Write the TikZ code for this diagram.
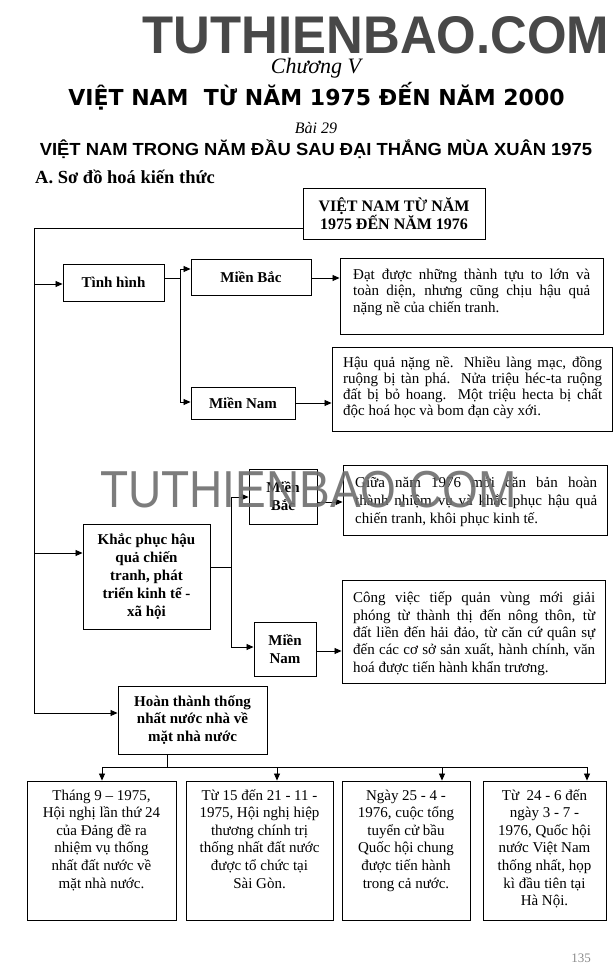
\documentclass[tikz,border=0pt]{standalone}
\usepackage{fontspec}
\setmainfont{Liberation Serif}
\newfontfamily\hsans{Liberation Sans}
\newfontfamily\dejav{DejaVu Sans}
\usetikzlibrary{arrows.meta}
\definecolor{wmtop}{RGB}{72,72,72}
\definecolor{wmmid}{RGB}{110,110,110}
\newcommand\jl[2]{\makebox[#1][s]{#2}}
\lineskiplimit=-30pt
\begin{document}
\begin{tikzpicture}[x=1pt,y=-1pt,
  box/.style={draw, line width=0.9pt, inner sep=0pt},
  lbl/.style={font=\bfseries\fontsize{15}{17.8}\selectfont, align=center},
  body/.style={inner sep=0pt, align=left, anchor=base west},
  cbody/.style={inner sep=0pt, align=center, anchor=base, font=\fontsize{15}{17.6}\selectfont},
  arr/.style={line width=0.8pt, -{Triangle[length=7pt,width=6pt]}},
  ln/.style={line width=0.8pt}]
\useasboundingbox (0,0) rectangle (615,980);
\fill[white] (0,0) rectangle (615,980);

% headers
\node[anchor=base, inner sep=0pt, text=wmtop, font=\hsans\bfseries\fontsize{53}{53}\selectfont] (wm1) at (376,53) {\scalebox{0.96}[1]{TUTHIENBAO.COM}};
\node[anchor=base, inner sep=0pt, font=\itshape\fontsize{22}{22}\selectfont] (chap) at (316,73) {Chương V};
\node[anchor=base, inner sep=0pt, font=\dejav\bfseries\fontsize{22}{22}\selectfont] (title) at (316.5,105) {VIỆT NAM\ \ TỪ NĂM 1975 ĐẾN NĂM 2000};
\node[anchor=base, inner sep=0pt, font=\itshape\fontsize{16}{16}\selectfont] (bai) at (316,133) {Bài 29};
\node[anchor=base, inner sep=0pt, font=\hsans\bfseries\fontsize{17.5}{17.5}\selectfont] (sub) at (316,155) {\scalebox{1.05}[1]{VIỆT NAM TRONG NĂM ĐẦU SAU ĐẠI THẮNG MÙA XUÂN 1975}};
\node[anchor=base west, inner sep=0pt, font=\bfseries\fontsize{18.5}{18.5}\selectfont] (secA) at (35,183) {A. Sơ đồ hoá kiến thức};

% top box
\node[box, lbl, font=\bfseries\fontsize{16}{18}\selectfont, minimum width=182pt, minimum height=51pt] (top) at (394,213.5) {VIỆT NAM TỪ NĂM\\1975 ĐẾN NĂM 1976};

% first group
\node[box, lbl, minimum width=101pt, minimum height=37pt] (tinh) at (113.5,282.5) {Tình hình};
\node[box, lbl, minimum width=120pt, minimum height=36pt] (mb1) at (251,277) {Miền Bắc};
\node[box, lbl, minimum width=104pt, minimum height=32pt] (mn1) at (243,403) {Miền Nam};
\node[box, minimum width=263pt, minimum height=76pt] (t1) at (471.5,296) {};
\node[body, font=\fontsize{15}{16.5}\selectfont] (t1txt) at (353,312) {\jl{237pt}{Đạt được những thành tựu to lớn và}\\ \jl{237pt}{toàn diện, nhưng cũng chịu hậu quả}\\ nặng nề của chiến tranh.};
\node[box, minimum width=280pt, minimum height=84pt] (t2) at (472,389) {};
\node[body, font=\fontsize{15}{15.7}\selectfont] (t2txt) at (343,415) {\jl{259pt}{Hậu quả nặng nề. Nhiều làng mạc, đồng}\\ \jl{259pt}{ruộng bị tàn phá. Nửa triệu héc-ta ruộng}\\ \jl{259pt}{đất bị bỏ hoang. Một triệu hecta bị chất}\\ độc hoá học và bom đạn cày xới.};

% second group
\node[box, lbl, minimum width=127pt, minimum height=105pt] (kp) at (146.5,576.5) {Khắc phục hậu\\quả chiến\\tranh, phát\\triển kinh tế -\\xã hội};
\node[box, lbl, minimum width=68pt, minimum height=55pt] (mb2) at (283,496.5) {Miền\\Bắc};
\node[box, lbl, minimum width=62pt, minimum height=54pt] (mn2) at (285,649) {Miền\\Nam};
\node[box, minimum width=264pt, minimum height=70pt] (t3) at (475,500) {};
\node[body, font=\fontsize{15}{18}\selectfont] (t3txt) at (355,523) {\jl{242pt}{Giữa năm 1976 mới căn bản hoàn}\\ \jl{242pt}{thành nhiệm vụ và khắc phục hậu quả}\\ chiến tranh, khôi phục kinh tế.};
\node[box, minimum width=263pt, minimum height=103pt] (t4) at (473.5,631.5) {};
\node[body, font=\fontsize{15}{17.3}\selectfont] (t4txt) at (353,672) {\jl{242pt}{Công việc tiếp quản vùng mới giải}\\ \jl{242pt}{phóng từ thành thị đến nông thôn, từ}\\ \jl{242pt}{đất liền đến hải đảo, từ căn cứ quân sự}\\ \jl{242pt}{đến các cơ sở sản xuất, hành chính, văn}\\ hoá được tiến hành khẩn trương.};

% third group
\node[box, lbl, minimum width=149pt, minimum height=68pt] (ht) at (192.5,720) {Hoàn thành thống\\nhất nước nhà về\\mặt nhà nước};
\node[box, minimum width=149pt, minimum height=139pt] (ba) at (101.5,850.5) {};
\node[box, minimum width=147pt, minimum height=139pt] (bb) at (259.5,850.5) {};
\node[box, minimum width=128pt, minimum height=139pt] (bc) at (406,850.5) {};
\node[box, minimum width=123pt, minimum height=139pt] (bd) at (544.5,850.5) {};
\node[cbody] (tA) at (101.5,888) {Tháng 9 – 1975,\\Hội nghị lần thứ 24\\của Đảng đề ra\\nhiệm vụ thống\\nhất đất nước về\\mặt nhà nước.};
\node[cbody] (tB) at (259.5,888) {Từ 15 đến 21 - 11 -\\1975, Hội nghị hiệp\\thương chính trị\\thống nhất đất nước\\được tổ chức tại\\Sài Gòn.};
\node[cbody] (tC) at (406,888) {Ngày 25 - 4 -\\1976, cuộc tổng\\tuyển cử bầu\\Quốc hội chung\\được tiến hành\\trong cả nước.};
\node[cbody] (tD) at (544.5,905.6) {Từ\ \ 24 - 6 đến\\ngày 3 - 7 -\\1976, Quốc hội\\nước Việt Nam\\thống nhất, họp\\kì đầu tiên tại\\Hà Nội.};

% page number
\node[anchor=base, inner sep=0pt, text=black!45, font=\fontsize{13}{13}\selectfont] (pg) at (581,962) {135};

% connectors: main spine
\coordinate (c0) at (303,228);
\coordinate (cL) at (34,228);
\coordinate (j1) at (34,284);
\coordinate (j2) at (34,553);
\coordinate (cLb) at (34,713);
\draw[ln] (c0) -- (cL) -- (cLb);
\draw[arr] (j1) -- (j1 -| tinh.west);
\draw[arr] (j2) -- (j2 -| kp.west);
\draw[arr] (cLb) -- (cLb -| ht.west);

% Tinh hinh split
\coordinate (s1) at (180,278);
\coordinate (s1t) at (180,269);
\coordinate (s1b) at (180,402);
\draw[ln] (s1 -| tinh.east) -- (s1);
\draw[ln] (s1t) -- (s1b);
\draw[arr] (s1t) -- (s1t -| mb1.west);
\draw[arr] (s1b) -- (s1b -| mn1.west);
\coordinate (m1) at (311,278);
\coordinate (m2) at (295,403);
\draw[arr] (m1 -| mb1.east) -- (m1 -| t1.west);
\draw[arr] (m2 -| mn1.east) -- (m2 -| t2.west);

% Khac phuc split
\coordinate (s2) at (231,567);
\coordinate (s2t) at (231,497);
\coordinate (s2b) at (231,647);
\draw[ln] (s2 -| kp.east) -- (s2);
\draw[ln] (s2t) -- (s2b);
\draw[arr] (s2t) -- (s2t -| mb2.west);
\draw[arr] (s2b) -- (s2b -| mn2.west);
\coordinate (m3) at (317,502);
\coordinate (m4) at (316,651);
\draw[arr] (m3 -| mb2.east) -- (m3 -| t3.west);
\draw[arr] (m4 -| mn2.east) -- (m4 -| t4.west);

% Hoan thanh to bottom boxes
\coordinate (h0) at (167,767);
\coordinate (hA) at (102,767);
\coordinate (hB) at (277,767);
\coordinate (hC) at (442,767);
\coordinate (hD) at (587,767);
\draw[ln] (h0 |- ht.south) -- (h0);
\draw[ln] (hA) -- (hD);
\draw[arr] (hA) -- (hA |- ba.north);
\draw[arr] (hB) -- (hB |- bb.north);
\draw[arr] (hC) -- (hC |- bc.north);
\draw[arr] (hD) -- (hD |- bd.north);

% middle watermark
\node[anchor=base, inner sep=0pt, text=wmmid, opacity=0.9, font=\hsans\fontsize{52}{52}\selectfont] (wm2) at (308.5,507) {\scalebox{0.885}[1]{TUTHIENBAO.COM}};
\end{tikzpicture}
\end{document}
